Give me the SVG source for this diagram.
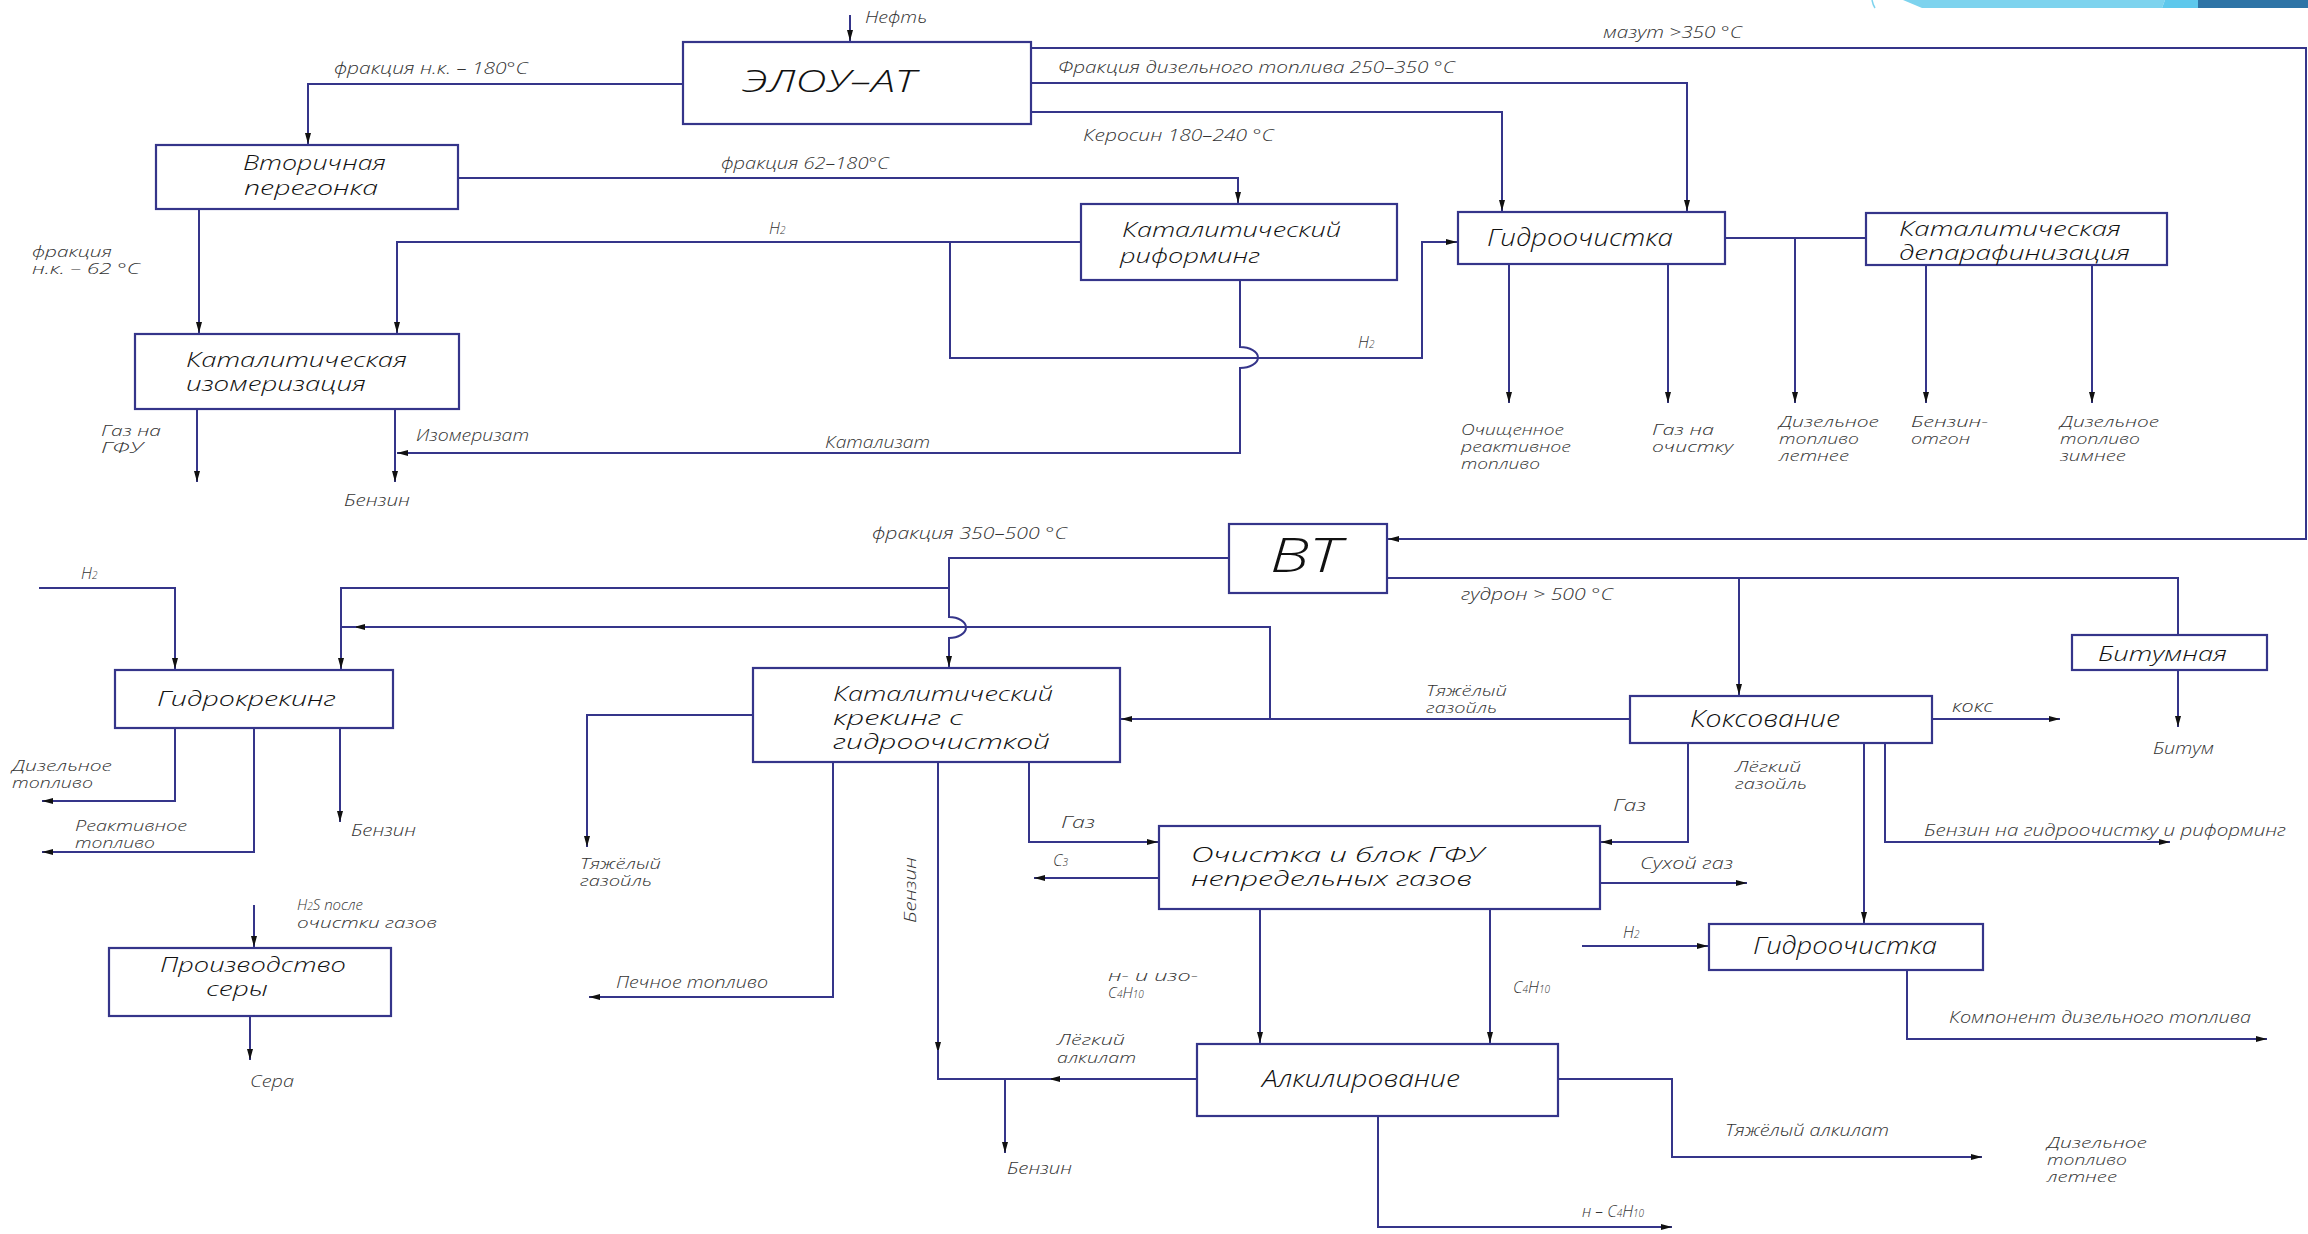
<svg xmlns="http://www.w3.org/2000/svg" width="2308" height="1234" viewBox="0 0 2308 1234">
<defs>
<marker id="ah" markerUnits="userSpaceOnUse" markerWidth="11" markerHeight="7" refX="11" refY="3.5" orient="auto"><path d="M0,0.5 L11,3.5 L0,6.5 z" fill="#111"/></marker>
<style>
.ln{fill:none;stroke:#35358a;stroke-width:2}
.ar{marker-end:url(#ah)}
.box{fill:#fff;stroke:#35358a;stroke-width:2.2}
.nt{font-family:"Open Sans","Lato","DejaVu Sans",sans-serif;font-style:italic;font-weight:300;font-size:21px;fill:#111}
.lb{font-family:"Open Sans","Lato","DejaVu Sans",sans-serif;font-style:italic;font-weight:300;font-size:16px;fill:#333}
.ml{font-size:15px}
.sb{font-size:10px}
</style>
</defs>
<rect width="2308" height="1234" fill="#fff"/>
<g id="decor">
<path d="M1903,0 L2165,0 L2162,8 L1922,8 z" fill="#7dd3ee"/>
<path d="M2165,0 L2200,0 L2198,8 L2162,8 z" fill="#5ec8ec"/>
<rect x="2198" y="0" width="110" height="8" fill="#2e74a6"/>
<path d="M1872,0 Q1873,5 1875,8" fill="none" stroke="#7dd3ee" stroke-width="1.5"/>
</g>
<g id="connectors">
<path class="ln ar" d="M850,15 V41"/>
<path class="ln ar" d="M683,84 H308 V144"/>
<path class="ln ar" d="M458,178 H1238 V203"/>
<path class="ln ar" d="M199,209 V333"/>
<path class="ln ar" d="M1081,242 H397 V333"/>
<path class="ln ar" d="M950,242 V358 H1422 V242 H1457"/>
<path class="ln" d="M1240,280 V347 A18,10.5 0 0 1 1240,368 V453 H409"/>
<path class="ln ar" d="M420,453 H397"/>
<path class="ln ar" d="M197,409 V482"/>
<path class="ln ar" d="M395,409 V482"/>
<path class="ln ar" d="M1031,83 H1687 V211"/>
<path class="ln ar" d="M1031,112 H1502 V211"/>
<path class="ln ar" d="M1031,48 H2306 V539 H1388"/>
<path class="ln" d="M1725,238 H1866"/>
<path class="ln ar" d="M1795,238 V403"/>
<path class="ln ar" d="M1509,264 V403"/>
<path class="ln ar" d="M1668,264 V403"/>
<path class="ln ar" d="M1926,265 V403"/>
<path class="ln ar" d="M2092,265 V403"/>
<path class="ln ar" d="M1229,558 H949 V617 A17,10.5 0 0 1 949,638 V667"/>
<path class="ln ar" d="M949,588 H341 V669"/>
<path class="ln ar" d="M39,588 H175 V669"/>
<path class="ln ar" d="M1270,719 V627 H354"/>
<path class="ln" d="M356,627 H341"/>
<path class="ln ar" d="M1630,719 H1121"/>
<path class="ln" d="M1387,578 H2178 V635"/>
<path class="ln ar" d="M1739,578 V695"/>
<path class="ln ar" d="M2178,670 V727"/>
<path class="ln ar" d="M1932,719 H2060"/>
<path class="ln ar" d="M1688,743 V842 H1601"/>
<path class="ln ar" d="M1864,743 V923"/>
<path class="ln ar" d="M1885,743 V842 H2170"/>
<path class="ln ar" d="M1600,883 H1747"/>
<path class="ln ar" d="M753,715 H587 V847"/>
<path class="ln ar" d="M833,762 V997 H589"/>
<path class="ln ar" d="M938,762 V1053"/>
<path class="ln ar" d="M1197,1079 H1049"/>
<path class="ln" d="M1051,1079 H938 V1050"/>
<path class="ln ar" d="M1005,1079 V1153"/>
<path class="ln ar" d="M1029,762 V842 H1158"/>
<path class="ln ar" d="M1159,878 H1034"/>
<path class="ln ar" d="M1260,909 V1043"/>
<path class="ln ar" d="M1490,909 V1043"/>
<path class="ln ar" d="M1378,1116 V1227 H1672"/>
<path class="ln ar" d="M1558,1079 H1672 V1157 H1982"/>
<path class="ln ar" d="M1582,946 H1708"/>
<path class="ln ar" d="M1907,970 V1039 H2267"/>
<path class="ln ar" d="M175,728 V801 H42"/>
<path class="ln ar" d="M254,728 V852 H42"/>
<path class="ln ar" d="M340,728 V822"/>
<path class="ln ar" d="M254,905 V947"/>
<path class="ln ar" d="M250,1016 V1060"/>
</g>
<g id="labels" class="lb">
<text x="865" y="23" textLength="62" lengthAdjust="spacingAndGlyphs">Нефть</text>
<text x="334" y="74" textLength="194" lengthAdjust="spacingAndGlyphs">фракция н.к. – 180°C</text>
<text x="1058" y="73" textLength="397" lengthAdjust="spacingAndGlyphs">Фракция дизельного топлива 250–350 °C</text>
<text x="1083" y="141" textLength="191" lengthAdjust="spacingAndGlyphs">Керосин 180–240 °C</text>
<text x="1603" y="38" textLength="139" lengthAdjust="spacingAndGlyphs">мазут &gt;350 °C</text>
<text x="721" y="169" textLength="168" lengthAdjust="spacingAndGlyphs">фракция 62–180°C</text>
<text x="769" y="234">H<tspan class="sb">2</tspan></text>
<text class="ml" x="32" y="257" textLength="80" lengthAdjust="spacingAndGlyphs">фракция</text>
<text class="ml" x="32" y="274" textLength="108" lengthAdjust="spacingAndGlyphs">н.к. – 62 °C</text>
<text class="ml" x="101" y="436" textLength="60" lengthAdjust="spacingAndGlyphs">Газ на</text>
<text class="ml" x="101" y="453" textLength="42" lengthAdjust="spacingAndGlyphs">ГФУ</text>
<text x="416" y="441" textLength="113" lengthAdjust="spacingAndGlyphs">Изомеризат</text>
<text x="825" y="448" textLength="105" lengthAdjust="spacingAndGlyphs">Катализат</text>
<text x="344" y="506" textLength="66" lengthAdjust="spacingAndGlyphs">Бензин</text>
<text x="1358" y="348">H<tspan class="sb">2</tspan></text>
<text class="ml" x="1461" y="435" textLength="103" lengthAdjust="spacingAndGlyphs">Очищенное</text>
<text class="ml" x="1461" y="452" textLength="110" lengthAdjust="spacingAndGlyphs">реактивное</text>
<text class="ml" x="1461" y="469" textLength="79" lengthAdjust="spacingAndGlyphs">топливо</text>
<text class="ml" x="1652" y="435" textLength="62" lengthAdjust="spacingAndGlyphs">Газ на</text>
<text class="ml" x="1652" y="452" textLength="81" lengthAdjust="spacingAndGlyphs">очистку</text>
<text class="ml" x="1779" y="427" textLength="100" lengthAdjust="spacingAndGlyphs">Дизельное</text>
<text class="ml" x="1779" y="444" textLength="80" lengthAdjust="spacingAndGlyphs">топливо</text>
<text class="ml" x="1779" y="461" textLength="70" lengthAdjust="spacingAndGlyphs">летнее</text>
<text class="ml" x="1911" y="427" textLength="77" lengthAdjust="spacingAndGlyphs">Бензин-</text>
<text class="ml" x="1911" y="444" textLength="59" lengthAdjust="spacingAndGlyphs">отгон</text>
<text class="ml" x="2060" y="427" textLength="99" lengthAdjust="spacingAndGlyphs">Дизельное</text>
<text class="ml" x="2060" y="444" textLength="80" lengthAdjust="spacingAndGlyphs">топливо</text>
<text class="ml" x="2060" y="461" textLength="66" lengthAdjust="spacingAndGlyphs">зимнее</text>
<text x="872" y="539" textLength="195" lengthAdjust="spacingAndGlyphs">фракция 350–500 °C</text>
<text x="1461" y="600" textLength="152" lengthAdjust="spacingAndGlyphs">гудрон &gt; 500 °C</text>
<text x="81" y="579">H<tspan class="sb">2</tspan></text>
<text class="ml" x="1426" y="696" textLength="81" lengthAdjust="spacingAndGlyphs">Тяжёлый</text>
<text class="ml" x="1426" y="713" textLength="71" lengthAdjust="spacingAndGlyphs">газойль</text>
<text x="1952" y="712" textLength="41" lengthAdjust="spacingAndGlyphs">кокс</text>
<text x="2153" y="754" textLength="61" lengthAdjust="spacingAndGlyphs">Битум</text>
<text class="ml" x="1735" y="772" textLength="66" lengthAdjust="spacingAndGlyphs">Лёгкий</text>
<text class="ml" x="1735" y="789" textLength="72" lengthAdjust="spacingAndGlyphs">газойль</text>
<text x="1613" y="811" textLength="33" lengthAdjust="spacingAndGlyphs">Газ</text>
<text x="1924" y="836" textLength="362" lengthAdjust="spacingAndGlyphs">Бензин на гидроочистку и риформинг</text>
<text x="1640" y="869" textLength="93" lengthAdjust="spacingAndGlyphs">Сухой газ</text>
<text x="1061" y="828" textLength="34" lengthAdjust="spacingAndGlyphs">Газ</text>
<text x="1053" y="866">C<tspan class="sb">3</tspan></text>
<text class="ml" x="12" y="771" textLength="100" lengthAdjust="spacingAndGlyphs">Дизельное</text>
<text class="ml" x="12" y="788" textLength="81" lengthAdjust="spacingAndGlyphs">топливо</text>
<text class="ml" x="75" y="831" textLength="112" lengthAdjust="spacingAndGlyphs">Реактивное</text>
<text class="ml" x="75" y="848" textLength="80" lengthAdjust="spacingAndGlyphs">топливо</text>
<text x="351" y="836" textLength="65" lengthAdjust="spacingAndGlyphs">Бензин</text>
<text class="ml" x="580" y="869" textLength="81" lengthAdjust="spacingAndGlyphs">Тяжёлый</text>
<text class="ml" x="580" y="886" textLength="72" lengthAdjust="spacingAndGlyphs">газойль</text>
<text transform="translate(916,923) rotate(-90)" x="0" y="0" textLength="66" lengthAdjust="spacingAndGlyphs">Бензин</text>
<text class="ml" x="1108" y="981" textLength="90" lengthAdjust="spacingAndGlyphs">н- и изо-</text>
<text class="ml" x="1108" y="998">C<tspan class="sb">4</tspan>H<tspan class="sb">10</tspan></text>
<text class="ml" x="1057" y="1045" textLength="68" lengthAdjust="spacingAndGlyphs">Лёгкий</text>
<text class="ml" x="1057" y="1063" textLength="79" lengthAdjust="spacingAndGlyphs">алкилат</text>
<text x="1513" y="993">C<tspan class="sb">4</tspan>H<tspan class="sb">10</tspan></text>
<text x="1623" y="938">H<tspan class="sb">2</tspan></text>
<text x="1949" y="1023" textLength="302" lengthAdjust="spacingAndGlyphs">Компонент дизельного топлива</text>
<text x="1725" y="1136" textLength="164" lengthAdjust="spacingAndGlyphs">Тяжёлый алкилат</text>
<text class="ml" x="2047" y="1148" textLength="100" lengthAdjust="spacingAndGlyphs">Дизельное</text>
<text class="ml" x="2047" y="1165" textLength="80" lengthAdjust="spacingAndGlyphs">топливо</text>
<text class="ml" x="2047" y="1182" textLength="70" lengthAdjust="spacingAndGlyphs">летнее</text>
<text x="1582" y="1217">н – C<tspan class="sb">4</tspan>H<tspan class="sb">10</tspan></text>
<text x="1007" y="1174" textLength="65" lengthAdjust="spacingAndGlyphs">Бензин</text>
<text x="616" y="988" textLength="152" lengthAdjust="spacingAndGlyphs">Печное топливо</text>
<text class="ml" x="297" y="910">H<tspan class="sb">2</tspan>S после</text>
<text class="ml" x="297" y="928" textLength="140" lengthAdjust="spacingAndGlyphs">очистки газов</text>
<text x="250" y="1087" textLength="44" lengthAdjust="spacingAndGlyphs">Сера</text>
</g>
<g id="n-elou"><rect class="box" x="683" y="42" width="348" height="82"/><text class="nt" x="742" y="92" style="font-size:32px" textLength="174" lengthAdjust="spacingAndGlyphs">ЭЛОУ–АТ</text></g>
<g id="n-vtorichnaya"><rect class="box" x="156" y="145" width="302" height="64"/><text class="nt" x="243" y="170" textLength="143" lengthAdjust="spacingAndGlyphs">Вторичная</text><text class="nt" x="244" y="195" textLength="134" lengthAdjust="spacingAndGlyphs">перегонка</text></g>
<g id="n-izomer"><rect class="box" x="135" y="334" width="324" height="75"/><text class="nt" x="186" y="367" textLength="221" lengthAdjust="spacingAndGlyphs">Каталитическая</text><text class="nt" x="186" y="391" textLength="180" lengthAdjust="spacingAndGlyphs">изомеризация</text></g>
<g id="n-reforming"><rect class="box" x="1081" y="204" width="316" height="76"/><text class="nt" x="1122" y="237" textLength="219" lengthAdjust="spacingAndGlyphs">Каталитический</text><text class="nt" x="1120" y="263" textLength="140" lengthAdjust="spacingAndGlyphs">риформинг</text></g>
<g id="n-gidro1"><rect class="box" x="1458" y="212" width="267" height="52"/><text class="nt" x="1487" y="246" style="font-size:23px" textLength="186" lengthAdjust="spacingAndGlyphs">Гидроочистка</text></g>
<g id="n-deparaf"><rect class="box" x="1866" y="213" width="301" height="52"/><text class="nt" x="1899" y="236" textLength="222" lengthAdjust="spacingAndGlyphs">Каталитическая</text><text class="nt" x="1899" y="260" textLength="231" lengthAdjust="spacingAndGlyphs">депарафинизация</text></g>
<g id="n-vt"><rect class="box" x="1229" y="524" width="158" height="69"/><text class="nt" x="1270" y="572" style="font-size:48px" textLength="71" lengthAdjust="spacingAndGlyphs">ВТ</text></g>
<g id="n-gidrokreking"><rect class="box" x="115" y="670" width="278" height="58"/><text class="nt" x="157" y="706" textLength="179" lengthAdjust="spacingAndGlyphs">Гидрокрекинг</text></g>
<g id="n-katkreking"><rect class="box" x="753" y="668" width="367" height="94"/><text class="nt" x="833" y="701" textLength="220" lengthAdjust="spacingAndGlyphs">Каталитический</text><text class="nt" x="833" y="725" textLength="130" lengthAdjust="spacingAndGlyphs">крекинг с</text><text class="nt" x="833" y="749" textLength="217" lengthAdjust="spacingAndGlyphs">гидроочисткой</text></g>
<g id="n-koksovanie"><rect class="box" x="1630" y="696" width="302" height="47"/><text class="nt" x="1690" y="727" style="font-size:23px" textLength="150" lengthAdjust="spacingAndGlyphs">Коксование</text></g>
<g id="n-bitumnaya"><rect class="box" x="2072" y="635" width="195" height="35"/><text class="nt" x="2098" y="661" textLength="129" lengthAdjust="spacingAndGlyphs">Битумная</text></g>
<g id="n-gfu"><rect class="box" x="1159" y="826" width="441" height="83"/><text class="nt" x="1191" y="862" textLength="293" lengthAdjust="spacingAndGlyphs">Очистка и блок ГФУ</text><text class="nt" x="1191" y="886" textLength="281" lengthAdjust="spacingAndGlyphs">непредельных газов</text></g>
<g id="n-gidro2"><rect class="box" x="1709" y="924" width="274" height="46"/><text class="nt" x="1753" y="954" style="font-size:23px" textLength="184" lengthAdjust="spacingAndGlyphs">Гидроочистка</text></g>
<g id="n-alkil"><rect class="box" x="1197" y="1044" width="361" height="72"/><text class="nt" x="1262" y="1087" style="font-size:23px" textLength="198" lengthAdjust="spacingAndGlyphs">Алкилирование</text></g>
<g id="n-sera"><rect class="box" x="109" y="948" width="282" height="68"/><text class="nt" x="160" y="972" textLength="186" lengthAdjust="spacingAndGlyphs">Производство</text><text class="nt" x="206" y="996" textLength="62" lengthAdjust="spacingAndGlyphs">серы</text></g>
</svg>
